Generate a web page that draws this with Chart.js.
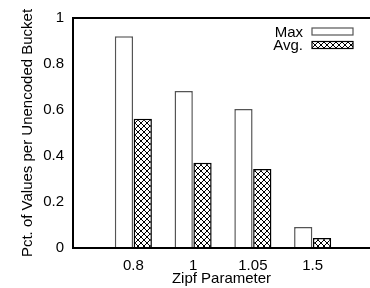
<!DOCTYPE html>
<html>
<head>
<meta charset="utf-8">
<script src="https://cdn.jsdelivr.net/npm/chart.js@4.4.1/dist/chart.umd.min.js"></script>
<style>
  html, body { margin: 0; padding: 0; background: #fff; }
  #wrap { width: 370px; height: 288px; }
</style>
</head>
<body>
<div id="wrap"><canvas id="chart"></canvas></div>
<script>
const categories = ["0.8", "1", "1.05", "1.5"];
const maxValues = [0.921, 0.683, 0.604, 0.091];
const avgValues = [0.562, 0.371, 0.344, 0.043];
const seriesNames = ["Max", "Avg."];
const yTicks = [0, 0.2, 0.4, 0.6, 0.8, 1];

const FONT = "'Liberation Sans', Arial, sans-serif";

function makeCrossHatch() {
  const p = document.createElement("canvas");
  p.width = 6;
  p.height = 6;
  const g = p.getContext("2d");
  g.fillStyle = "#fff";
  g.fillRect(0, 0, 6, 6);
  g.strokeStyle = "#000";
  g.lineWidth = 1;
  g.beginPath();
  g.moveTo(0, 0); g.lineTo(6, 6);
  g.moveTo(6, 0); g.lineTo(0, 6);
  g.stroke();
  return g.createPattern(p, "repeat");
}

const hatch = makeCrossHatch();

// plot border: left, top, bottom (right side runs off the picture)
const framePlugin = {
  id: "frame",
  afterDatasetsDraw(chart) {
    const { ctx, chartArea: a } = chart;
    ctx.save();
    ctx.strokeStyle = "#000";
    ctx.lineWidth = 2;
    ctx.beginPath();
    ctx.moveTo(a.right + 3, a.top);
    ctx.lineTo(a.left, a.top);
    ctx.lineTo(a.left, a.bottom);
    ctx.lineTo(a.right + 3, a.bottom);
    ctx.stroke();
    ctx.restore();
  },
};

// gnuplot-style key: text right aligned, sample box to its right
const keyPlugin = {
  id: "key",
  afterDraw(chart) {
    const { ctx } = chart;
    ctx.save();
    ctx.font = "15px " + FONT;
    ctx.textAlign = "right";
    ctx.textBaseline = "middle";
    chart.data.datasets.forEach((ds, i) => {
      const y = 31.5 + i * 13.5;
      ctx.fillStyle = "#000";
      ctx.fillText(ds.label, 303, y + 1);
      ctx.fillStyle = ds.backgroundColor;
      ctx.fillRect(312, y - 3.5, 41, 7);
      ctx.strokeStyle = ds.borderColor;
      ctx.lineWidth = 1.2;
      ctx.strokeRect(312, y - 3.5, 41, 7);
    });
    ctx.restore();
  },
};

new Chart(document.getElementById("chart"), {
  type: "bar",
  data: {
    datasets: [
      {
        label: seriesNames[0],
        data: maxValues.map((v, i) => ({ x: i, y: v })),
        backgroundColor: "#fff",
        borderColor: "#555",
        borderWidth: 1.5,
      },
      {
        label: seriesNames[1],
        data: avgValues.map((v, i) => ({ x: i, y: v })),
        backgroundColor: hatch,
        borderColor: "#000",
        borderWidth: 1.5,
      },
    ],
  },
  options: {
    responsive: true,
    maintainAspectRatio: false,
    animation: false,
    categoryPercentage: 0.63,
    barPercentage: 0.97,
    layout: { padding: { top: 18, right: 0, left: 0, bottom: 0 } },
    plugins: { legend: { display: false }, tooltip: { enabled: false } },
    scales: {
      x: {
        type: "linear",
        offset: false,
        min: -1.01,
        max: 3.96,
        afterBuildTicks: (s) => { s.ticks = categories.map((c, i) => ({ value: i })); },
        grid: { display: false, drawTicks: false },
        border: { display: false },
        ticks: {
          autoSkip: false,
          maxRotation: 0,
          padding: 9,
          color: "#000",
          font: { family: FONT, size: 15 },
          callback: (v) => categories[v] ?? "",
        },
        title: {
          display: true,
          text: "Zipf Parameter",
          color: "#000",
          font: { family: FONT, size: 15 },
          padding: { top: 0, bottom: 0 },
        },
        afterFit: (s) => {
          s.height = 40;
          s.paddingLeft = 0;
          s.paddingRight = 0;
        },
      },
      y: {
        min: 0,
        max: 1,
        afterBuildTicks: (s) => { s.ticks = yTicks.map((v) => ({ value: v })); },
        grid: { display: false, drawTicks: false },
        border: { display: false },
        ticks: {
          padding: 9,
          color: "#000",
          font: { family: FONT, size: 15 },
          callback: (v) => String(v),
        },
        title: {
          display: true,
          text: "Pct. of Values per Unencoded Bucket",
          color: "#000",
          font: { family: FONT, size: 15 },
          padding: { top: 19, bottom: 0 },
        },
        afterFit: (s) => { s.width = 73; },
      },
    },
  },
  plugins: [framePlugin, keyPlugin],
});
</script>
</body>
</html>
